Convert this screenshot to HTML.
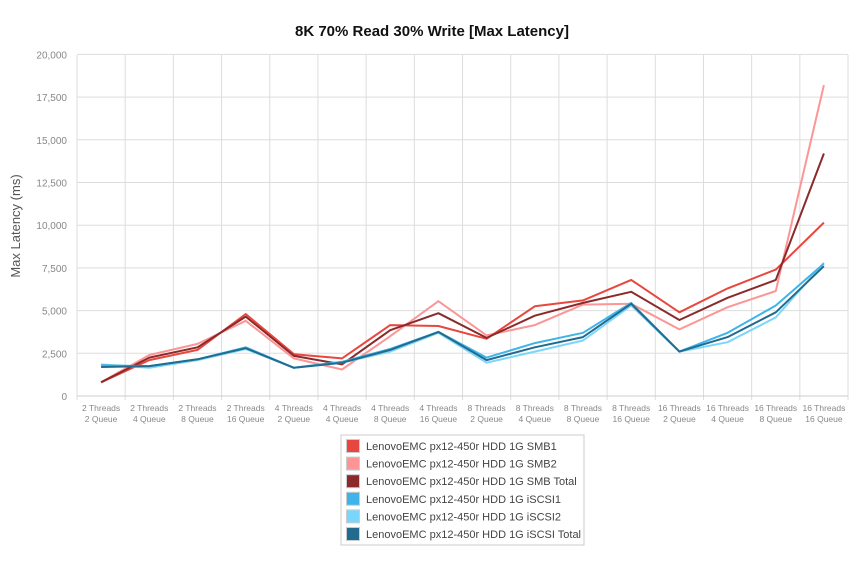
<!DOCTYPE html>
<html><head><meta charset="utf-8"><style>
body{margin:0;background:#fff;}
svg{display:block;font-family:"Liberation Sans",sans-serif;}
</style></head><body>
<svg id="s" width="850" height="567" xmlns="http://www.w3.org/2000/svg">
<text x="432" y="36" text-anchor="middle" font-size="15" font-weight="bold" fill="#111">8K 70% Read 30% Write [Max Latency]</text>
<text transform="translate(20,226) rotate(-90)" text-anchor="middle" font-size="13" fill="#555">Max Latency (ms)</text>
<g id="grid"></g>
<g id="lines"></g>
<rect x="341" y="435" width="243" height="110" fill="#fff" stroke="#ccc"/>
<g id="leg" font-size="11" fill="#444"></g>
</svg>
<script>
var X0=77,W=48.19,Y0=396,H=341.6;
var g=document.getElementById('grid'),l=document.getElementById('lines'),lg=document.getElementById('leg');
var h='';
for(var i=0;i<=8;i++){var y=Y0-i*H/8;h+='<line x1="'+X0+'" x2="848" y1="'+y+'" y2="'+y+'" stroke="#ddd"/>';
h+='<text x="67" y="'+(y+4)+'" text-anchor="end" font-size="10" fill="#888">'+(i*2500).toLocaleString('en-US')+'</text>';}
var q=[2,4,8,16];
for(var i=0;i<=16;i++){var x=X0+i*W;h+='<line x1="'+x+'" x2="'+x+'" y1="55" y2="'+(Y0+4)+'" stroke="#ddd"/>';
if(i<16){var cx=x+W/2;var t=[2,4,8,16][Math.floor(i/4)];
h+='<text x="'+cx+'" y="411" text-anchor="middle" font-size="8.5" fill="#888">'+t+' Threads</text><text x="'+cx+'" y="422" text-anchor="middle" font-size="8.5" fill="#888">'+q[i%4]+' Queue</text>';}}
h+='<line x1="'+X0+'" x2="848" y1="'+Y0+'" y2="'+Y0+'" stroke="#ccc"/>';
g.innerHTML=h;
var S=[
["#e8473f","LenovoEMC px12-450r HDD 1G SMB1",[800,2100,2700,4800,2450,2200,4150,4100,3350,5250,5600,6800,4900,6300,7400,10150]],
["#fc9696","LenovoEMC px12-450r HDD 1G SMB2",[800,2400,3050,4400,2200,1550,3500,5550,3550,4150,5350,5400,3900,5200,6150,18200]],
["#8b2a2a","LenovoEMC px12-450r HDD 1G SMB Total",[800,2250,2850,4650,2350,1850,3850,4850,3400,4700,5450,6100,4450,5750,6800,14200]],
["#3fb4ea","LenovoEMC px12-450r HDD 1G iSCSI1",[1800,1750,2150,2850,1650,2000,2750,3750,2250,3100,3700,5450,2600,3700,5300,7750]],
["#7ad6fa","LenovoEMC px12-450r HDD 1G iSCSI2",[1850,1650,2100,2750,1650,1950,2600,3700,1950,2600,3250,5300,2600,3150,4600,7800]],
["#236b8e","LenovoEMC px12-450r HDD 1G iSCSI Total",[1700,1750,2150,2800,1650,1950,2700,3750,2100,2850,3450,5400,2600,3450,4900,7600]]];
var o='',lh='';var order=[1,0,2,4,3,5];
order.forEach(function(k){var s=S[k];var p=s[2].map(function(v,i){return (X0+W*(i+0.5)).toFixed(1)+','+(Y0-v/20000*H).toFixed(1)}).join(' ');
o+='<polyline points="'+p+'" fill="none" stroke="'+s[0]+'" stroke-width="2" stroke-linejoin="round"/>';});
S.forEach(function(s,i){var y=446+i*17.6;lh+='<rect x="346.5" y="'+(y-6.5)+'" width="13" height="13" fill="'+s[0]+'" stroke="#ccc"/><text x="366" y="'+(y+4)+'">'+s[1]+'</text>';});
l.innerHTML=o;lg.innerHTML=lh;
</script>
</body></html>
